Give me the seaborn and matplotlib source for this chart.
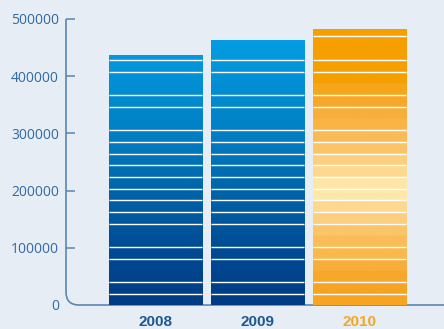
import numpy as np
import pandas as pd
import matplotlib
matplotlib.use("Agg")
import matplotlib.pyplot as plt
import seaborn as sns
from matplotlib.path import Path
from matplotlib.patches import PathPatch
from matplotlib.transforms import IdentityTransform
from matplotlib.colors import LinearSegmentedColormap, to_rgb

# ---- data ----
years = ["2008", "2009", "2010"]
values = [437000, 463000, 482000]
ytick_values = [0, 100000, 200000, 300000, 400000, 500000]
ytick_labels = ["0", "100000", "200000", "300000", "400000", "500000"]

# ---- style ----
BG = "#e6edf5"
AXIS = "#5a86b3"
TICK_TXT = "#3169a2"
year_colors = ["#1d5895", "#1d5895", "#f5a623"]
bar_base_colors = ["#0070b8", "#0070b8", "#f5a623"]
YMAX = 500000

STRIPE_BASE = 18900
STRIPE_STEP = 20480
STRIPE_SKIP = {2, 5, 15, 18, 21}

blue_stops = [(0.0, "#003b83"), (0.2, "#004c95"), (0.4, "#0064a9"),
              (0.6, "#017fc4"), (0.8, "#0391d6"), (1.0, "#05a3e8")]
orange_slot_colors = ["#f6a623", "#f6a424", "#f7a82c", "#f8ae3a", "#fab84d",
                      "#fbbd58", "#fbc567", "#fccf80", "#fdd98f", "#fee8a8",
                      "#fee7a6", "#fdd98e", "#fcd07e", "#fbc466", "#fabb55",
                      "#f9b445", "#f8ae3a", "#f7a82a", "#f6a61a", "#f5a000",
                      "#f5a000", "#f5a000", "#f5a000", "#f5a000", "#f5a000"]

sns.set_theme(style="white")
plt.rcParams["font.family"] = ["Open Sans", "DejaVu Sans"]

fig = plt.figure(figsize=(4.44, 3.29), dpi=100, facecolor=BG)
W, H = 444, 329
ax = fig.add_axes([66 / W, 24 / H, 378 / W, 286 / H])
ax.set_facecolor(BG)

df = pd.DataFrame({"year": years, "value": values})
sns.barplot(data=df, x="year", y="value", hue="year", palette=bar_base_colors,
            width=0.912, legend=False, ax=ax, saturation=1, zorder=2)

# gradient images
nrows = 2000
vals = (np.arange(nrows) + 0.5) / nrows * YMAX
blue_cmap = LinearSegmentedColormap.from_list("b", blue_stops)
blue_img = blue_cmap(vals / YMAX)[:, :3].reshape(nrows, 1, 3)
slots = np.where(vals < STRIPE_BASE, 0,
                 np.floor((vals - STRIPE_BASE) / STRIPE_STEP).astype(int) + 1)
slots = np.clip(slots, 0, len(orange_slot_colors) - 1)
orange_img = np.array([to_rgb(orange_slot_colors[s]) for s in slots]).reshape(nrows, 1, 3)
imgs = [blue_img, blue_img, orange_img]

stripe_vals = [STRIPE_BASE + k * STRIPE_STEP for k in range(30) if k not in STRIPE_SKIP]

for patch, img in zip(ax.patches, imgs):
    patch.set_linewidth(0)
    x0 = patch.get_x()
    x1 = x0 + patch.get_width()
    h = patch.get_height()
    im = ax.imshow(img, extent=(x0, x1, 0, YMAX), origin="lower", aspect="auto",
                   interpolation="bilinear", zorder=2.5)
    im.set_clip_path(patch)
    ys = [v for v in stripe_vals if v < h - 2000]
    ax.hlines(ys, x0, x1, colors="white", linewidth=1.0, zorder=3)

ax.set_xlim(-0.877, 2.828)
ax.set_ylim(0, YMAX)
for s in ax.spines.values():
    s.set_visible(False)

ax.set_yticks(ytick_values)
ax.set_yticklabels(ytick_labels)
ax.tick_params(axis="y", direction="in", length=6.5, width=1.1, color=AXIS,
               labelcolor=TICK_TXT, labelsize=10, pad=5, left=True)
ax.yaxis.get_major_ticks()[0].tick1line.set_visible(False)
ax.tick_params(axis="x", length=0, pad=7)
ax.set_xlabel("")
ax.set_ylabel("")
for lbl, c in zip(ax.get_xticklabels(), year_colors):
    lbl.set_color(c)
    lbl.set_fontweight("bold")
    lbl.set_fontfamily("Liberation Sans")
    lbl.set_fontsize(11)

# curved axis line (left + bottom) in display coords
fig.canvas.draw()
xs, yb = ax.transData.transform((-0.877, 0))
_, yt = ax.transData.transform((-0.877, YMAX))
r = 13
verts = [(xs, yt), (xs, yb + r), (xs, yb), (xs + r, yb), (W + 5, yb)]
codes = [Path.MOVETO, Path.LINETO, Path.CURVE3, Path.CURVE3, Path.LINETO]
pp = PathPatch(Path(verts, codes), transform=IdentityTransform(), fill=False,
               edgecolor=AXIS, linewidth=1.2, clip_on=False, zorder=1)
ax.add_artist(pp)

fig.savefig("out.png", dpi=100, facecolor=BG)
